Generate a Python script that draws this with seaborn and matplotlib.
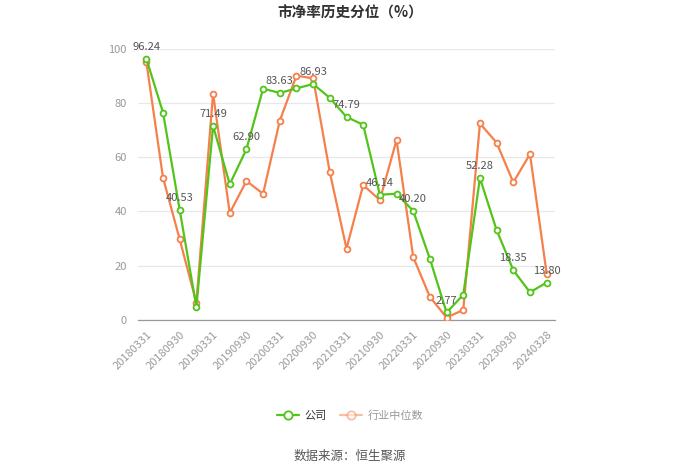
import matplotlib
matplotlib.use("Agg")
import matplotlib.pyplot as plt
import seaborn as sns
import pandas as pd
import numpy as np
from matplotlib.lines import Line2D

dates = ["20180331", "20180630", "20180930", "20181231", "20190331", "20190630",
         "20190930", "20191231", "20200331", "20200630", "20200930", "20201231",
         "20210331", "20210630", "20210930", "20211231", "20220331", "20220630",
         "20220930", "20221231", "20230331", "20230630", "20230930", "20231231",
         "20240328"]
company = [96.24, 76.4, 40.53, 4.8, 71.49, 50.0, 62.90, 85.2, 83.63, 85.3,
           86.93, 81.8, 74.79, 71.9, 46.14, 46.5, 40.20, 22.5, 2.77, 9.3,
           52.28, 33.1, 18.35, 10.2, 13.80]
industry = [95.1, 52.4, 29.7, 6.4, 83.4, 39.4, 51.2, 46.5, 73.4, 90.0,
            89.0, 54.4, 26.3, 49.7, 44.2, 66.3, 23.2, 8.5, 0.9, 3.7,
            72.4, 65.3, 50.7, 61.1, 17.1]
series_names = ["公司", "行业中位数"]
yticks = [0, 20, 40, 60, 80, 100]

sns.set_theme(style="white")
plt.rcParams['font.family'] = ['Noto Sans CJK SC', 'DejaVu Sans']

GREEN = "#52c41a"
ORANGE = "#f5804b"

fig = plt.figure(figsize=(7, 4.73), dpi=100)
ax = fig.add_axes([138/700, 1-320/473, (555-138)/700, (320-48.5)/473])

df = pd.DataFrame({
    "idx": list(range(len(dates))) * 2,
    "value": company + industry,
    "series": [series_names[0]] * len(dates) + [series_names[1]] * len(dates),
})

sns.lineplot(data=df[df.series == series_names[1]], x="idx", y="value", ax=ax,
             color=ORANGE, lw=1.6, marker="o", markersize=4.2,
             markerfacecolor="white", markeredgecolor=ORANGE, markeredgewidth=1.3,
             legend=False, zorder=3)
sns.lineplot(data=df[df.series == series_names[0]], x="idx", y="value", ax=ax,
             color=GREEN, lw=1.6, marker="o", markersize=4.2,
             markerfacecolor="white", markeredgecolor=GREEN, markeredgewidth=1.3,
             legend=False, zorder=4)

for i in range(0, len(dates), 2):
    ax.annotate(f"{company[i]:.2f}", (i, company[i]), xytext=(0, 5),
                textcoords="offset points", ha="center", va="bottom",
                fontsize=8, color="#555555", zorder=5)

ax.set_xlim(-0.5, len(dates) - 0.5)
ax.set_ylim(0, 100)
ax.set_yticks(yticks)
ax.set_yticklabels([str(v) for v in yticks], fontsize=8, color="#999999")
ticks = list(range(0, len(dates), 2))
ax.set_xticks(ticks)
ax.set_xticklabels([dates[i] for i in ticks], rotation=45, ha="right",
                   rotation_mode="anchor", fontsize=8, color="#999999")
ax.tick_params(axis="x", length=4, color="#999999", width=0.8, pad=3)
ax.tick_params(axis="y", length=0, pad=8)
ax.grid(axis="y", color="#e8e8e8", lw=0.9)
ax.set_axisbelow(True)
for s in ["top", "right", "left"]:
    ax.spines[s].set_visible(False)
ax.spines["bottom"].set_color("#999999")
ax.spines["bottom"].set_linewidth(0.9)
ax.set_xlabel("")
ax.set_ylabel("")

fig.text(0.5, 1-13/473, "市净率历史分位（%）", ha="center", va="center",
         fontsize=10.5, fontweight="bold", color="#333333")

h1 = Line2D([], [], color=GREEN, lw=1.6, marker="o", markersize=6,
            markerfacecolor="white", markeredgecolor=GREEN, markeredgewidth=1.3)
h2 = Line2D([], [], color=ORANGE, lw=1.6, marker="o", markersize=6, alpha=0.5,
            markerfacecolor="white", markeredgecolor=ORANGE, markeredgewidth=1.3)
leg = fig.legend([h1, h2], series_names, loc="center", bbox_to_anchor=(0.5, 1-416/473),
                 ncol=2, frameon=False, fontsize=8, handlelength=2.0,
                 columnspacing=1.2, handletextpad=0.5)
leg.get_texts()[0].set_color("#333333")
leg.get_texts()[1].set_color("#999999")

fig.text(0.5, 1-456/473, "数据来源：恒生聚源", ha="center", va="center",
         fontsize=9, color="#555555")

fig.savefig("out.png", dpi=100)
